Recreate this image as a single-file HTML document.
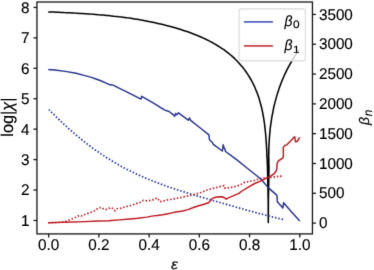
<!DOCTYPE html>
<html><head><meta charset="utf-8"><style>
html,body{margin:0;padding:0;background:#fff;}
svg{display:block;will-change:transform;}
text{font-family:"Liberation Sans",sans-serif;fill:#000;stroke:#000;stroke-width:0.15px;text-rendering:geometricPrecision;}
</style></head><body>
<svg width="374" height="270" viewBox="0 0 374 270">
<defs><filter id="cvL" color-interpolation-filters="sRGB" x="0" y="0" width="374" height="270" filterUnits="userSpaceOnUse"><feConvolveMatrix order="3" kernelMatrix="0.0100 0.0800 0.0100 0.0800 0.6400 0.0800 0.0100 0.0800 0.0100" divisor="1" edgeMode="none"/></filter><filter id="cvT" color-interpolation-filters="sRGB" x="0" y="0" width="374" height="270" filterUnits="userSpaceOnUse"><feConvolveMatrix order="3" kernelMatrix="0.0064 0.0672 0.0064 0.0672 0.7056 0.0672 0.0064 0.0672 0.0064" divisor="1" edgeMode="none"/></filter></defs><g filter="url(#cvL)"><rect x="0" y="0" width="374" height="270" fill="#fff"/>
<polyline points="48.2,11.9 50.9,12.0 53.6,12.1 56.2,12.2 58.9,12.3 61.5,12.4 64.2,12.6 66.8,12.7 69.5,12.8 72.1,12.9 74.7,13.1 77.4,13.2 80.0,13.4 82.6,13.5 85.2,13.7 87.9,13.9 90.5,14.1 93.1,14.2 95.7,14.4 98.3,14.7 100.9,14.9 103.5,15.1 106.1,15.4 108.7,15.6 111.3,15.9 113.9,16.2 116.5,16.4 119.1,16.8 121.7,17.1 124.3,17.4 126.9,17.8 129.5,18.1 132.0,18.5 134.6,18.9 137.2,19.3 139.8,19.8 142.4,20.2 144.9,20.7 147.5,21.2 150.1,21.7 152.7,22.2 155.2,22.8 157.8,23.4 160.4,24.0 162.9,24.6 165.5,25.2 168.1,25.9 170.6,26.6 173.2,27.3 175.8,28.0 178.3,28.8 180.9,29.6 183.4,30.4 186.0,31.2 188.5,32.1 191.0,33.0 193.5,34.0 196.0,34.9 198.5,36.0 200.9,37.0 203.4,38.1 205.8,39.2 208.1,40.4 210.5,41.6 212.8,42.8 215.1,44.1 217.3,45.5 219.5,46.8 221.7,48.3 223.9,49.7 226.0,51.3 228.0,52.9 230.0,54.5 232.0,56.2 233.9,57.9 235.8,59.7 237.6,61.5 239.3,63.4 241.0,65.4 242.7,67.3 244.3,69.4 245.8,71.5 247.3,73.6 248.7,75.8 250.0,78.0 251.3,80.2 252.5,82.5 253.7,84.9 254.8,87.3 255.8,89.7 256.8,92.1 257.7,94.6 258.6,97.1 259.4,99.6 260.1,102.1 260.8,104.7 261.5,107.3 262.1,109.9 262.6,112.5 263.1,115.1 263.6,117.8 264.0,120.4 264.4,123.0 264.7,125.7 265.0,128.4 265.3,131.0 265.6,133.7 265.8,136.3 266.0,139.0 266.2,141.6 266.4,144.3 266.5,146.9 266.7,149.5 266.8,152.1 266.9,154.7 267.0,157.3 267.2,159.8 267.3,162.4 267.4,164.9 267.5,167.4 268.2,200.0 268.3,222.6 268.4,200.0 269.0,167.6 268.9,165.5 268.8,163.4 268.8,161.3 268.8,159.2 268.7,157.1 268.7,155.1 268.8,153.0 268.8,150.9 268.8,148.8 268.9,146.7 269.0,144.6 269.1,142.5 269.2,140.4 269.4,138.3 269.5,136.2 269.7,134.1 269.9,132.0 270.1,129.9 270.3,127.8 270.6,125.7 270.9,123.6 271.2,121.6 271.5,119.5 271.8,117.4 272.2,115.4 272.6,113.3 273.0,111.3 273.4,109.2 273.8,107.2 274.3,105.1 274.8,103.1 275.3,101.1 275.9,99.1 276.4,97.1 277.0,95.1 277.6,93.1 278.3,91.1 278.9,89.1 279.6,87.1 280.3,85.2 281.0,83.2 281.8,81.3 282.6,79.4 283.4,77.5 284.2,75.5 285.1,73.6 286.0,71.8 286.9,69.9 287.9,68.0 288.9,66.2 289.9,64.3 290.9,62.5 292.0,60.7 293.0,58.9 294.2,57.1 295.3,55.4 296.5,53.6 297.7,51.9 298.9,50.1" fill="none" stroke="#000" stroke-width="1.55" stroke-linejoin="round"/>
<polyline points="48.8,109.6 52.8,113.5 56.8,117.4 60.7,121.3 64.7,125.0 68.7,128.6 72.7,132.1 76.6,135.5 80.6,138.8 84.6,141.9 88.6,145.0 92.5,148.0 96.5,150.8 100.5,153.6 104.5,156.2 108.4,158.8 112.4,161.2 116.4,163.6 120.4,165.8 124.3,168.0 128.3,170.0 132.3,172.0 136.3,173.9 140.3,175.7 144.2,177.5 148.2,179.2 152.2,180.8 156.2,182.3 160.1,183.8 164.1,185.3 168.1,186.7 172.1,188.0 176.0,189.4 180.0,190.7 184.0,191.9 188.0,193.1 191.9,194.4 195.9,195.5 199.9,196.7 203.9,197.9 207.9,199.0 211.8,200.2 215.8,201.3 219.8,202.5 223.8,203.6 227.7,204.7 231.7,205.8 235.7,207.0 239.7,208.1 243.6,209.2 247.6,210.3 251.6,211.4 255.6,212.5 259.5,213.6 263.5,214.6 267.5,215.7 271.5,216.7 275.4,217.6 279.4,218.6 283.4,219.4" fill="none" stroke="#2232a0" stroke-width="1.7" stroke-dasharray="1.5 1.9" stroke-dashoffset="0.2"/>
<polyline points="48.3,222.8 60.0,222.4 63.7,221.9 66.4,221.0 69.1,220.0 71.2,219.1 73.4,218.4 76.0,217.3 78.7,215.7 79.3,215.4 81.4,215.9 84.1,214.8 86.7,213.8 89.4,212.8 92.1,212.0 94.2,210.9 96.4,209.3 99.0,208.3 101.2,207.3 103.3,208.7 105.5,209.7 108.7,208.4 111.9,207.6 114.0,210.3 115.1,210.8 117.3,208.7 120.5,208.4 123.7,207.3 126.9,206.5 130.1,205.8 135.3,203.8 140.7,202.3 143.3,200.4 148.1,200.9 151.4,200.0 154.6,199.5 156.7,197.9 158.3,199.5 159.9,201.6 163.2,201.1 168.5,199.7 172.0,199.3 182.7,197.1 193.4,194.7 200.9,192.5 208.0,189.6 213.3,188.3 218.7,187.0 224.0,185.6 225.1,188.3 229.4,187.7 234.7,186.7 240.1,185.0 244.0,182.6 254.7,180.3 260.0,178.7 265.4,177.6 271.8,177.4 276.1,176.8 280.4,176.0 282.0,177.1 283.0,177.6" fill="none" stroke="#bb1a22" stroke-width="1.7" stroke-dasharray="1.5 1.9" stroke-dashoffset="0"/>
<polyline points="48.3,69.5 54.7,70.0 65.4,71.4 76.1,73.2 84.0,75.4 90.7,77.1 96.0,79.0 101.4,81.0 106.7,83.3 110.5,85.1 111.6,84.6 114.2,85.6 118.0,87.7 128.7,92.8 141.0,99.2 141.7,96.3 150.1,101.1 156.0,104.6 161.4,108.2 162.6,108.6 164.4,109.8 167.4,111.0 168.7,111.2 174.1,115.4 174.7,116.3 175.6,113.4 176.7,114.8 178.6,112.8 180.1,114.2 188.3,120.2 189.6,117.9 190.6,120.4 200.6,128.3 208.6,134.6 209.1,135.6 209.3,138.9 209.6,139.7 212.3,142.4 213.3,144.3 222.4,151.0 223.2,144.8 224.0,147.6 224.9,149.0 225.6,151.5 236.9,159.9 246.7,167.7 257.4,176.2 261.5,179.8 268.2,187.6 276.7,195.1 277.1,196.7 277.3,201.7 282.9,207.9 283.6,202.7 288.6,208.4 290.2,210.5 299.8,220.9" fill="none" stroke="#26338c" stroke-width="1.45" stroke-linejoin="round"/>
<polyline points="48.3,222.8 60.0,222.4 64.9,222.3 85.0,221.6 98.0,221.0 108.7,220.8 119.4,219.9 130.1,219.0 138.0,218.3 146.7,217.1 153.5,215.9 157.4,215.5 162.7,214.8 168.1,213.7 172.0,212.9 176.0,212.0 182.7,211.0 188.0,209.6 193.4,207.5 198.7,205.7 204.1,204.3 208.4,202.7 210.1,201.1 212.8,198.1 216.6,197.0 221.9,196.8 224.6,197.7 226.2,199.2 227.8,198.1 239.0,193.4 241.2,191.5 248.0,187.3 254.7,183.5 260.0,181.4 265.4,178.7 270.7,176.2 274.5,173.3 276.0,171.3 276.8,168.5 277.1,163.5 278.4,160.9 283.0,157.8 283.4,155.2 283.3,150.0 283.2,147.6 284.4,145.8 286.7,144.9 289.3,142.2 292.0,139.6 293.3,137.8 294.7,136.7 295.1,139.6 295.6,141.8 297.3,141.3 298.9,138.7 299.8,137.3" fill="none" stroke="#bc1820" stroke-width="1.45" stroke-linejoin="round"/>
<rect x="239.1" y="8.9" width="66.2" height="52.0" rx="2.6" fill="#fff" fill-opacity="0.8" stroke="#d9d9d9" stroke-width="1.1"/>
<line x1="243.9" y1="21.9" x2="272.9" y2="21.9" stroke="#4c5cb8" stroke-width="1.7"/>
<line x1="243.9" y1="45.9" x2="272.9" y2="45.9" stroke="#c43a3e" stroke-width="1.7"/>
<rect x="36.95" y="2.0" width="275.5" height="231.9" fill="none" stroke="#141414" stroke-width="1.3"/>
<line x1="33.45" y1="220.45" x2="36.95" y2="220.45" stroke="#141414" stroke-width="1.3"/>
<line x1="33.45" y1="190.02" x2="36.95" y2="190.02" stroke="#141414" stroke-width="1.3"/>
<line x1="33.45" y1="159.59" x2="36.95" y2="159.59" stroke="#141414" stroke-width="1.3"/>
<line x1="33.45" y1="129.16" x2="36.95" y2="129.16" stroke="#141414" stroke-width="1.3"/>
<line x1="33.45" y1="98.73" x2="36.95" y2="98.73" stroke="#141414" stroke-width="1.3"/>
<line x1="33.45" y1="68.30" x2="36.95" y2="68.30" stroke="#141414" stroke-width="1.3"/>
<line x1="33.45" y1="37.87" x2="36.95" y2="37.87" stroke="#141414" stroke-width="1.3"/>
<line x1="33.45" y1="7.44" x2="36.95" y2="7.44" stroke="#141414" stroke-width="1.3"/>
<line x1="312.45" y1="223.10" x2="315.95" y2="223.10" stroke="#141414" stroke-width="1.3"/>
<line x1="312.45" y1="193.29" x2="315.95" y2="193.29" stroke="#141414" stroke-width="1.3"/>
<line x1="312.45" y1="163.48" x2="315.95" y2="163.48" stroke="#141414" stroke-width="1.3"/>
<line x1="312.45" y1="133.67" x2="315.95" y2="133.67" stroke="#141414" stroke-width="1.3"/>
<line x1="312.45" y1="103.87" x2="315.95" y2="103.87" stroke="#141414" stroke-width="1.3"/>
<line x1="312.45" y1="74.06" x2="315.95" y2="74.06" stroke="#141414" stroke-width="1.3"/>
<line x1="312.45" y1="44.25" x2="315.95" y2="44.25" stroke="#141414" stroke-width="1.3"/>
<line x1="312.45" y1="14.44" x2="315.95" y2="14.44" stroke="#141414" stroke-width="1.3"/>
<line x1="48.67" y1="233.9" x2="48.67" y2="237.4" stroke="#141414" stroke-width="1.3"/>
<line x1="98.89" y1="233.9" x2="98.89" y2="237.4" stroke="#141414" stroke-width="1.3"/>
<line x1="149.11" y1="233.9" x2="149.11" y2="237.4" stroke="#141414" stroke-width="1.3"/>
<line x1="199.33" y1="233.9" x2="199.33" y2="237.4" stroke="#141414" stroke-width="1.3"/>
<line x1="249.55" y1="233.9" x2="249.55" y2="237.4" stroke="#141414" stroke-width="1.3"/>
<line x1="299.77" y1="233.9" x2="299.77" y2="237.4" stroke="#141414" stroke-width="1.3"/></g><g filter="url(#cvT)"><text transform="translate(284.6,26.00) scale(0.93,1)" font-size="15" font-style="italic">β</text>
<text transform="translate(293.0,28.40) scale(1.12,1)" font-size="10.6">0</text>
<text transform="translate(284.6,50.40) scale(0.93,1)" font-size="15" font-style="italic">β</text>
<text transform="translate(293.0,52.80) scale(1.12,1)" font-size="10.6">1</text>
<text transform="translate(29.60,225.85) scale(0.985,1)" font-size="15.5" text-anchor="end" >1</text>
<text transform="translate(29.60,195.42) scale(0.985,1)" font-size="15.5" text-anchor="end" >2</text>
<text transform="translate(29.60,164.99) scale(0.985,1)" font-size="15.5" text-anchor="end" >3</text>
<text transform="translate(29.60,134.56) scale(0.985,1)" font-size="15.5" text-anchor="end" >4</text>
<text transform="translate(29.60,104.13) scale(0.985,1)" font-size="15.5" text-anchor="end" >5</text>
<text transform="translate(29.60,73.70) scale(0.985,1)" font-size="15.5" text-anchor="end" >6</text>
<text transform="translate(29.60,43.27) scale(0.985,1)" font-size="15.5" text-anchor="end" >7</text>
<text transform="translate(29.60,12.84) scale(0.985,1)" font-size="15.5" text-anchor="end" >8</text>
<text transform="translate(318.90,228.20) scale(0.985,1)" font-size="15.5" text-anchor="start" >0</text>
<text transform="translate(318.90,198.39) scale(0.985,1)" font-size="15.5" text-anchor="start" >500</text>
<text transform="translate(318.90,168.58) scale(0.985,1)" font-size="15.5" text-anchor="start" >1000</text>
<text transform="translate(318.90,138.77) scale(0.985,1)" font-size="15.5" text-anchor="start" >1500</text>
<text transform="translate(318.90,108.97) scale(0.985,1)" font-size="15.5" text-anchor="start" >2000</text>
<text transform="translate(318.90,79.16) scale(0.985,1)" font-size="15.5" text-anchor="start" >2500</text>
<text transform="translate(318.90,49.35) scale(0.985,1)" font-size="15.5" text-anchor="start" >3000</text>
<text transform="translate(318.90,19.54) scale(0.985,1)" font-size="15.5" text-anchor="start" >3500</text>
<text transform="translate(48.67,250.20) scale(0.985,1)" font-size="15.5" text-anchor="middle" >0.0</text>
<text transform="translate(98.89,250.20) scale(0.985,1)" font-size="15.5" text-anchor="middle" >0.2</text>
<text transform="translate(149.11,250.20) scale(0.985,1)" font-size="15.5" text-anchor="middle" >0.4</text>
<text transform="translate(199.33,250.20) scale(0.985,1)" font-size="15.5" text-anchor="middle" >0.6</text>
<text transform="translate(249.55,250.20) scale(0.985,1)" font-size="15.5" text-anchor="middle" >0.8</text>
<text transform="translate(299.77,250.20) scale(0.985,1)" font-size="15.5" text-anchor="middle" >1.0</text>
<text transform="translate(174.4,268.7) scale(1.1,1)" font-size="14.2" font-style="italic" text-anchor="middle">ε</text>
<text transform="translate(13,117.1) rotate(-90) scale(0.96,1)" font-size="17.0" text-anchor="middle">log|<tspan font-style="italic">χ</tspan>|</text>
<g transform="translate(369.0,124.9) rotate(-90)"><text x="0" y="0" font-size="14" font-style="italic">β</text><text x="8.7" y="3.3" font-size="12" font-style="italic">n</text></g></g>
</svg>
</body></html>
